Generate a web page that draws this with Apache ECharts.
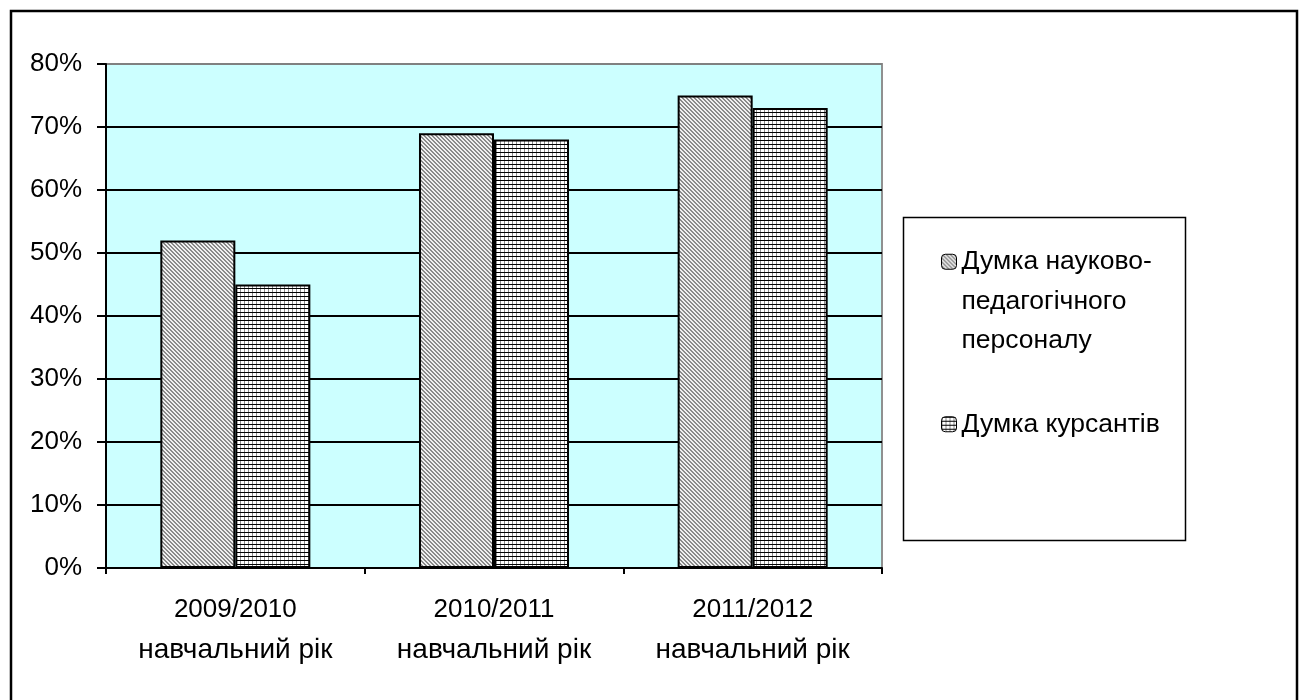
<!DOCTYPE html>
<html><head><meta charset="utf-8">
<script src="https://cdn.jsdelivr.net/npm/echarts@6/dist/echarts.min.js"></script>
<style>html,body{margin:0;padding:0;background:#fff}#c{width:1304px;height:700px}</style>
</head><body><div id="c"></div>
<script>
var categoryYears = ['2009/2010', '2010/2011', '2011/2012'];
var categorySuffix = 'навчальний рік';
var seriesNames = ['Думка науково-педагогічного персоналу', 'Думка курсантів'];
var staffValues = [0.52, 0.69, 0.75];
var cadetValues = [0.45, 0.68, 0.73];
var yTicks = [0, 0.1, 0.2, 0.3, 0.4, 0.5, 0.6, 0.7, 0.8];

var FONT = "'Liberation Sans', Arial, sans-serif";

function makePattern(kind) {
  var c = document.createElement('canvas');
  c.width = 4; c.height = 4;
  var ctx = c.getContext('2d');
  if (kind === 'diag') {
    ctx.fillStyle = '#f0f0f0'; ctx.fillRect(0, 0, 4, 4);
    ctx.fillStyle = '#8a8a8a';
    for (var y = 0; y < 4; y++) for (var x = 0; x < 4; x++) {
      if (((x - y + 8) % 4) < 2) ctx.fillRect(x, y, 1, 1);
    }
  } else {
    ctx.fillStyle = '#ffffff'; ctx.fillRect(0, 0, 4, 4);
    ctx.fillStyle = '#8a8a8a'; ctx.fillRect(0, 0, 1, 4);
    ctx.fillStyle = '#000000'; ctx.fillRect(0, 0, 4, 1);
  }
  return { image: c, repeat: 'repeat' };
}

var chart = echarts.init(document.getElementById('c'), null, { renderer: 'canvas' });
var splitColors = yTicks.map(function (v, i) { return i === yTicks.length - 1 ? '#808080' : '#000000'; });

chart.setOption({
  animation: false,
  backgroundColor: '#ffffff',
  textStyle: { fontFamily: FONT, color: '#000' },
  graphic: [{
    type: 'rect', silent: true, z: -1,
    shape: { x: 11, y: 11, width: 1286, height: 700 },
    style: { fill: 'none', stroke: '#000', lineWidth: 2.5 }
  }, {
    type: 'rect', silent: true, z: -1,
    shape: { x: 903.5, y: 217.5, width: 282, height: 323 },
    style: { fill: '#fff', stroke: '#000', lineWidth: 1.5 }
  }],
  grid: {
    left: 106, top: 64, right: 422, bottom: 132,
    show: true, backgroundColor: '#ccffff', borderColor: '#909090', borderWidth: 2
  },
  legend: {
    orient: 'vertical',
    left: 941, top: 163,
    itemWidth: 15, itemHeight: 15,
    itemGap: 44,
    padding: 0,
    itemStyle: { borderColor: '#000', borderWidth: 1 },
    formatter: function (name) {
      return name === seriesNames[0] ? '\n\nДумка науково-\nпедагогічного\nперсоналу' : name;
    },
    textStyle: { fontFamily: FONT, fontSize: 26.5, color: '#000', lineHeight: 39.5 },
    data: seriesNames
  },
  xAxis: {
    type: 'category',
    data: categoryYears,
    axisLine: { lineStyle: { color: '#000', width: 2 } },
    axisTick: { show: true, length: 6, lineStyle: { color: '#000', width: 2 } },
    axisLabel: {
      margin: 22,
      formatter: function (v) { return '{a|' + v + '}\n{b|' + categorySuffix + '}'; },
      rich: {
        a: { fontFamily: FONT, fontSize: 26, color: '#000', lineHeight: 40 },
        b: { fontFamily: FONT, fontSize: 28, color: '#000', lineHeight: 40 }
      }
    }
  },
  yAxis: {
    type: 'value', min: 0, max: 0.8, interval: 0.1,
    axisLine: { show: true, lineStyle: { color: '#000', width: 2 } },
    axisTick: { show: true, length: 9, lineStyle: { color: '#000', width: 2 } },
    splitLine: { show: true, lineStyle: { color: splitColors, width: 2 } },
    axisLabel: {
      fontFamily: FONT, fontSize: 26, color: '#000', margin: 24,
      formatter: function (v) { return Math.round(v * 100) + '%'; }
    }
  },
  series: [{
    name: seriesNames[0], type: 'bar', data: staffValues,
    barGap: '0%', barCategoryGap: '42%',
    itemStyle: { color: makePattern('diag'), borderColor: '#000', borderWidth: 2 }
  }, {
    name: seriesNames[1], type: 'bar', data: cadetValues,
    barGap: '0%', barCategoryGap: '42%',
    itemStyle: { color: makePattern('grid'), borderColor: '#000', borderWidth: 2 }
  }]
});
</script></body></html>
